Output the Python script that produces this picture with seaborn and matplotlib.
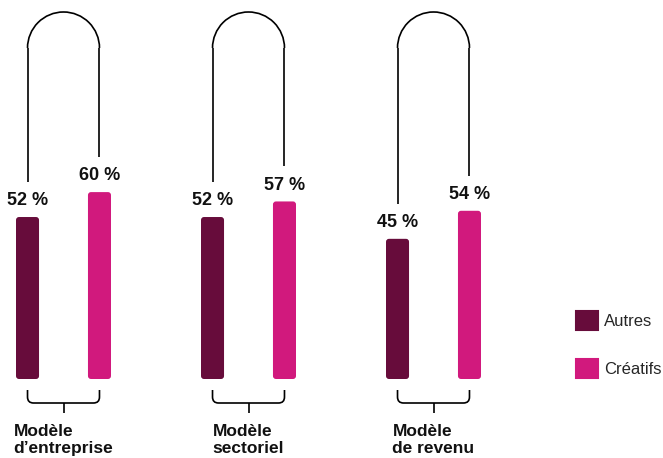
import matplotlib
matplotlib.use("Agg")
import numpy as np
import pandas as pd
import matplotlib.pyplot as plt
import seaborn as sns
from matplotlib.patches import FancyBboxPatch, Arc, Patch, PathPatch
from matplotlib.path import Path

# ---- data ----
groups = ["Modèle\nd’entreprise", "Modèle\nsectoriel", "Modèle\nde revenu"]
series = ["Autres", "Créatifs"]
autres = [52, 52, 45]
creatifs = [60, 57, 54]
colors = ["#670c3b", "#d1197d"]

df = pd.DataFrame({
    "group": groups * 2,
    "serie": [series[0]] * len(groups) + [series[1]] * len(groups),
    "value": autres + creatifs,
})

sns.set_theme(style="white")
plt.rcParams['font.family'] = ['Liberation Sans', 'DejaVu Sans']

W, H = 663, 458
fig = plt.figure(figsize=(W / 100, H / 100), dpi=100)
ax = fig.add_axes([0, 0, 1, 1])

sns.barplot(data=df, x="group", y="value", hue="serie", palette=colors,
            width=0.778, gap=0.68, saturation=1, legend=False, ax=ax)

px_x = 185.0     # pixels per category unit
px_y = 3.115     # pixels per percentage point
x0px = 63.5      # pixel position of first category
base_px = 79     # pixel height of zero line from bottom
ux, uy = 1 / px_x, 1 / px_y
ax.set_xlim(-x0px * ux, (W - x0px) * ux)
ax.set_ylim(-base_px * uy, (H - base_px) * uy)
ax.axis('off')

# value labels
for cont in ax.containers:
    ax.bar_label(cont, fmt="{:.0f} %", padding=5.5, fontsize=13,
                 fontweight='bold', color='#111111')

# rounded bars
r_px = 3
for p in list(ax.patches):
    x, y, w, h = p.get_x(), p.get_y(), p.get_width(), p.get_height()
    fc = p.get_facecolor()
    p.remove()
    fb = FancyBboxPatch((x, y), w, h,
                        boxstyle=f"round,pad=0,rounding_size={r_px * ux}",
                        mutation_aspect=uy / ux, facecolor=fc, edgecolor='none')
    ax.add_patch(fb)

# arches and brackets
lw = 1.2
cont_a, cont_c = ax.containers[0], ax.containers[1]
ytop = (H - 12 - base_px) * uy
off = 35 * uy
for i in range(len(groups)):
    pa, pc = cont_a.patches[i], cont_c.patches[i]
    xa = pa.get_x() + pa.get_width() / 2
    xc = pc.get_x() + pc.get_width() / 2
    xm = (xa + xc) / 2
    va, vc = autres[i], creatifs[i]
    rx = (xc - xa) / 2
    ry = rx * px_x * uy
    ax.plot([xa, xa], [va + off, ytop - ry], color='black', lw=lw, solid_capstyle='butt')
    ax.plot([xc, xc], [vc + off, ytop - ry], color='black', lw=lw, solid_capstyle='butt')
    ax.add_patch(Arc((xm, ytop - ry), 2 * rx, 2 * ry, theta1=0, theta2=180,
                     color='black', lw=lw))
    # bracket
    y1, y2, y3 = -11 * uy, -24 * uy, -34 * uy
    rc = 6
    verts = [(xa, y1), (xa, y2 + rc * uy), (xa, y2), (xa + rc * ux, y2),
             (xc - rc * ux, y2), (xc, y2), (xc, y2 + rc * uy), (xc, y1)]
    codes = [Path.MOVETO, Path.LINETO, Path.CURVE3, Path.CURVE3,
             Path.LINETO, Path.CURVE3, Path.CURVE3, Path.LINETO]
    ax.add_patch(PathPatch(Path(verts, codes), fill=False, edgecolor='black', lw=lw))
    ax.plot([xm, xm], [y2, y3], color='black', lw=lw, solid_capstyle='butt')
    # group label
    ax.text(xm, (H - 424 - base_px) * uy, groups[i], ha='center', va='top',
            multialignment='left', fontsize=12.5, fontweight='bold',
            linespacing=1.2, color='#111111')

# legend
handles = [Patch(facecolor=c, edgecolor=c, lw=1.5, joinstyle='round', label=s)
           for s, c in zip(series, colors)]
fs = 12
fpx = fs * 100 / 72
fig.legend(handles=handles, loc='upper left',
           bbox_to_anchor=(576 / W, (H - 311) / H), frameon=False,
           borderpad=0, borderaxespad=0, handlelength=22 / fpx,
           handleheight=23 / fpx, handletextpad=6 / fpx,
           labelspacing=29 / fpx, fontsize=fs)

fig.savefig("out.png", dpi=100)
